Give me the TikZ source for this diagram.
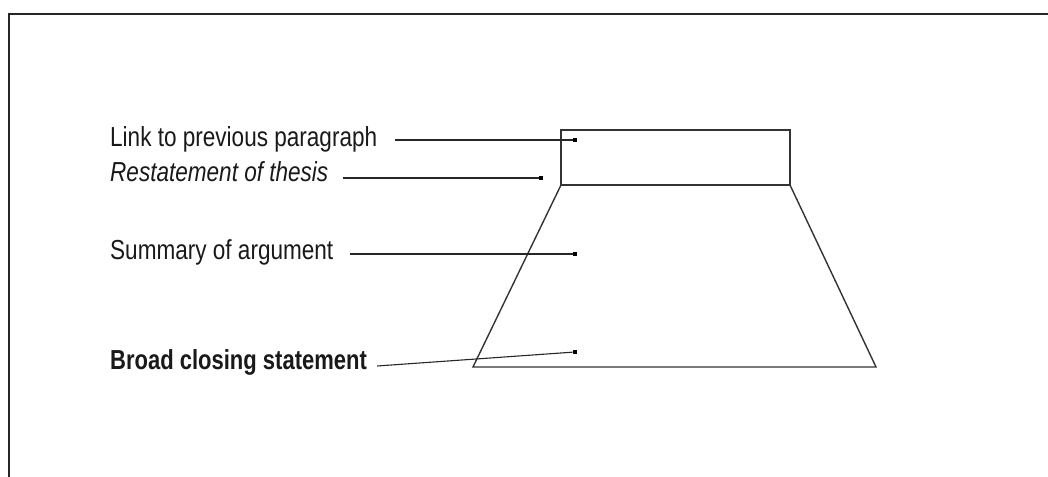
\documentclass[tikz,border=0pt]{standalone}
\usepackage{fontspec}
\setmainfont{Liberation Sans}[FakeStretch=0.82,BoldFeatures={FakeStretch=0.8}]
\usepackage{tikz}
\usetikzlibrary{calc}

\tikzset{
	lbl/.style={anchor=base west,inner sep=0pt,text=black!90,font=\fontsize{27.5bp}{30bp}\selectfont},
	dot/.style={rectangle,fill=black,inner sep=0pt,minimum size=4.5bp},
	leader/.style={draw=black!85,line width=1.1bp},
	outline/.style={draw=black!80,line width=1.4bp}
}

\begin{document}
\begin{tikzpicture}[x=1bp,y=-1bp]
	\useasboundingbox (0,0) rectangle (1048,477);
	% open frame
	\draw[black!85,line width=2.2bp] (9,477) -- (9,14) -- (1048,14);

	% box and trapezoid
	\coordinate (TL) at (561,130);
	\coordinate (TR) at (790,130);
	\coordinate (ML) at (561,185);
	\coordinate (MR) at (790,185);
	\coordinate (BL) at (473,367);
	\coordinate (BR) at (876,367);
	\draw[outline] (ML) -- (TL) -- (TR) -- (MR) -- cycle;
	\draw[outline] (ML) -- (BL) -- (BR) -- (MR);

	% labels
	\node[lbl] (link)    at (110,147) {Link to previous paragraph};
	\node[lbl] (thesis)  at (110,182) {\itshape Restatement of thesis};
	\node[lbl] (summary) at (110,260) {Summary of argument};
	\node[lbl] (closing) at (110,370) {\bfseries Broad closing statement};

	% markers
	\node[dot] (dlink)    at (575,140) {};
	\node[dot] (dthesis)  at (541,178) {};
	\node[dot] (dsummary) at (575,254) {};
	\node[dot] (dclosing) at (575,352) {};

	\draw[leader] ($(link.base east)+(18,-7)$) -- (dlink);
	\draw[leader] ($(thesis.base east)+(15,-4)$) -- (dthesis);
	\draw[leader] ($(summary.base east)+(17,-6)$) -- (dsummary);
	\draw[leader] ($(closing.base east)+(10,-4)$) -- (dclosing);
\end{tikzpicture}
\end{document}
